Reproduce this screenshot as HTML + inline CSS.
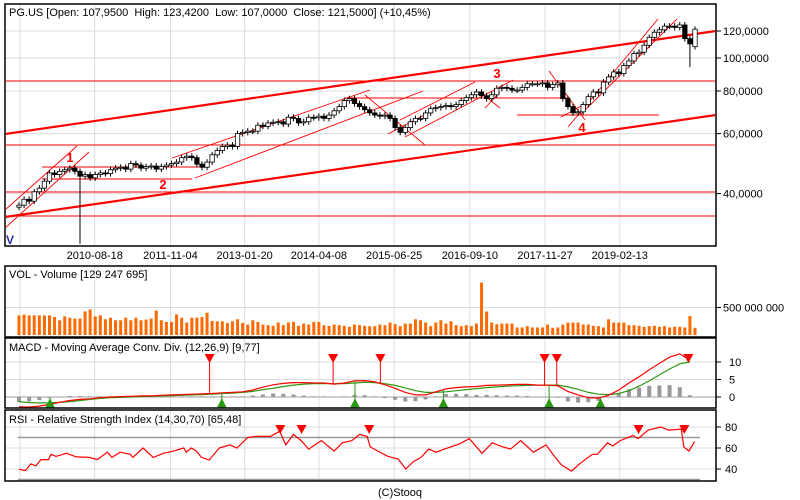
<!DOCTYPE html>
<html><head><meta charset="utf-8"><style>
body{margin:0;background:#fff;}
svg{display:block;font-family:"Liberation Sans",Arial,sans-serif;}
</style></head><body>
<svg id="c" width="800" height="500" viewBox="0 0 800 500">
<rect x="0" y="0" width="800" height="500" fill="#fff"/>
<defs><clipPath id="mainClip"><rect x="6" y="5" width="709" height="240"/></clipPath></defs>
<g id="grid"></g>
<g id="mainMarks" clip-path="url(#mainClip)"></g>
<g id="marks"></g>
<g id="frames">
<rect x="5" y="4" width="711" height="242" fill="none" stroke="#000" stroke-width="1.5"/>
<rect x="5" y="266" width="711" height="71" fill="none" stroke="#000" stroke-width="1.5"/>
<rect x="5" y="338" width="711" height="70" fill="none" stroke="#000" stroke-width="1.5"/>
<rect x="5" y="410" width="711" height="71" fill="none" stroke="#000" stroke-width="1.5"/>
</g>
<text x="9" y="16" font-size="11" style="white-space:pre">PG.US [Open: 107,9500  High: 123,4200  Low: 107,0000  Close: 121,5000] (+10,45%)</text>
<text x="9" y="278" font-size="11">VOL - Volume [129 247 695]</text>
<text x="9" y="351" font-size="11">MACD - Moving Average Conv. Div. (12,26,9) [9,77]</text>
<text x="9" y="423" font-size="11">RSI - Relative Strength Index (14,30,70) [65,48]</text>
<text x="6" y="244" font-size="12" font-weight="bold" fill="#3030a0">V</text>
<text x="400" y="496" font-size="11" text-anchor="middle">(C)Stooq</text>
</svg>
<script>
const closes=[37,38.5,38,40.5,41.5,43.5,46,45.5,46.5,47,
47.5,46.5,45,45.5,44.5,45.5,46,45.8,47,47.5,
47.8,47.2,49,48.5,47.5,48,48.2,47.2,48,48.5,
49,49.5,51,51.5,51,48.8,47.8,49.5,52,53.5,
55,55.5,55,60,60.5,61,61,63.5,63,64.5,64.8,
65,64,67,66.5,64.5,65,67,66.8,67.5,66.5,
68,70,72,75,76,73.5,72,70.5,69,68,
67.5,68,66.5,62.5,60.5,62.5,65,66.5,66.5,69,
71,71.5,72,72.5,72,73,75,76.5,78,79.5,
77.5,76,78,81.5,82,81.5,80.5,80.5,82,84,84,
84,84.5,82,83.5,84.5,76,72,69,69.5,73,
77,79.5,79,85,88,91,90,95,98,103,
104,109,115,119,121,124,124,123,125,114,110,121.5];
const lowSpikes={12:28.5,132:94};
const volumes=[357,369,357,357,357,357,357,327,268,339,315,298,298,428,464,339,357,286,315,268,268,315,268,315,268,280,298,446,268,238,238,375,315,226,315,315,327,405,256,250,250,220,250,286,220,190,268,238,190,179,167,226,179,226,238,167,208,190,238,238,179,167,190,179,167,149,190,179,167,
161,161,190,179,226,196,161,208,208,286,268,226,161,226,268,208,250,179,161,179,161,208,952,428,226,196,208,208,208,137,137,161,137,137,137,190,131,137,190,226,226,226,190,190,167,161,137,286,226,226,226,179,179,167,149,161,167,149,161,137,149,149,137,345,131];
const macdLine=[-2.8,-2.9,-2.6,-2.1,-1.5,-1.0,-0.7,-0.5,-0.2,0,0.1,0.2,0.3,0.3,0.5,0.6,0.7,0.8,0.9,1.0,1.2,1.3,1.5,2.0,2.8,3.5,3.9,4.1,4.1,4.0,4.0,3.7,4.0,4.6,4.7,4.3,3.5,2.5,1.3,0.6,0.6,1.5,2.3,2.7,2.9,3.0,3.3,3.4,3.5,3.6,3.6,3.4,3.4,3.2,1.6,0.6,-0.2,-0.3,0.5,2.0,4.0,5.8,7.8,9.6,11.4,12.3,10.5];
const signalLine=[-1.3,-1.6,-1.7,-1.7,-1.5,-1.3,-1.0,-0.7,-0.4,-0.2,-0.1,0,0.1,0.2,0.3,0.4,0.5,0.6,0.7,0.8,1.0,1.1,1.3,1.6,2.1,2.5,3.0,3.4,3.7,3.8,3.8,3.8,3.8,4.0,4.2,4.1,3.8,3.3,2.6,1.8,1.3,1.3,1.5,1.8,2.1,2.4,2.7,2.9,3.1,3.2,3.3,3.4,3.4,3.4,2.9,2.2,1.3,0.8,0.7,1.0,1.8,3.1,4.6,6.3,8.0,9.5,10.0];
const macdSellT=[37.5,61.8,71.1,103.4,105.8,131.7];
const macdBuyT=[6.1,39.9,66.1,83.5,104.3,114.4];
const rsiT=[0,1.3,2.3,3.3,4.3,5.8,6.3,7.3,9.3,11.3,13.8,15.4,17.4,18.3,19.9,21.9,22.4,24.4,26.4,28.4,30.4,32.4,32.9,33.9,34.9,35.9,37.4,39.4,41.5,42.9,45,46.5,49.5,51.3,52.5,54,55.5,57,59.5,62,63.6,65.5,67,68.5,69.1,70.6,72.6,74.6,76.1,77.6,79.1,80.6,82.1,83.7,86.7,88.6,91.1,93.1,95.2,96.7,98.7,101.2,103.7,105.2,106.7,108.7,110.3,112.8,113.8,115.8,116.8,118.3,120.8,121.8,123.8,126.3,127.8,130.3,130.8,131.8,132.9];
const rsiVals=[39.7,38.5,45,43,49,49,54,52,55,51.5,51,49,56,51,56,54,51,60,51,55,57,60,56,60,57,51,48.5,60,63,60,70,71,71,76,63,73,67,59,67,57,65,67,73,71,61,57,52,49.5,40,47,51,59,56,59,64,69,55,65,61,59,67,56,63,53,44,38,45,54,54,65,62,67,72,69,77,80,77,78,61,57,66];
const rsiSellT=[51.4,55.6,68.9,121.9,130.9];
const priceTicks=[120,100,80,60,40];
const priceTickLabels=["120,0000","100,0000","80,0000","60,0000","40,0000"];
const dateLabels=["2010-08-18","2011-11-04","2013-01-20","2014-04-08","2015-06-25","2016-09-10","2017-11-27","2019-02-13"];
const dateT=[14.9,29.8,44.4,59,73.8,88.7,103.5,118.2];
const macdTicks=[10,5,0];
const rsiTicks=[80,60,40];

const NS="http://www.w3.org/2000/svg";
const N=closes.length;
const X0=19,DX=(695-19)/(N-1);
function xT(t){return X0+t*DX;}
function yP(p){return 58-148*Math.log(p/100);}
function yV(v){return 335-v*27.5/500;}
function yM(v){return 397-v*3.5;}
function yR(v){return 448-(v-60)*1.05;}
function el(tag,attrs,parent){const e=document.createElementNS(NS,tag);for(const k in attrs)e.setAttribute(k,attrs[k]);parent.appendChild(e);return e;}
const grid=document.getElementById('grid'),marks=document.getElementById('marks'),mm=document.getElementById('mainMarks');

const gx=[20].concat(dateT.map(xT));
gx.forEach(x=>{[[5,246],[266,337],[338,408],[410,481]].forEach(r=>{
  const l=el('line',{x1:x,x2:x,y1:r[0],y2:r[1],stroke:'#dcdcdc'},grid);
  
  
});});
dateLabels.forEach((d,i)=>{
  const t=el('text',{x:xT(dateT[i]),y:259,'font-size':11,'text-anchor':'middle'},marks);t.textContent=d;
  
  
});
priceTicks.forEach((p,i)=>{
  const y=yP(p);
  const l=el('line',{x1:5,x2:716,y1:y,y2:y,stroke:'#dcdcdc'},grid);
  
  
  el('line',{x1:716,x2:721,y1:y,y2:y,stroke:'#000'},marks);
  const t=el('text',{x:723,y:y+4,'font-size':11},marks);t.textContent=priceTickLabels[i];
  
  
});
{const y=yV(500);el('line',{x1:5,x2:716,y1:y,y2:y,stroke:'#dcdcdc'},grid);el('line',{x1:716,x2:721,y1:y,y2:y,stroke:'#000'},marks);
const t=el('text',{x:723,y:y+4,'font-size':11},marks);t.textContent='500 000 000';

}
macdTicks.forEach(v=>{const y=yM(v);el('line',{x1:5,x2:716,y1:y,y2:y,stroke:v===0?'#a0a0a0':'#dcdcdc'},grid);el('line',{x1:716,x2:721,y1:y,y2:y,stroke:'#000'},marks);
const t=el('text',{x:729,y:y+4,'font-size':11},marks);t.textContent=v;

});
rsiTicks.forEach(v=>{const y=yR(v);el('line',{x1:5,x2:716,y1:y,y2:y,stroke:'#dcdcdc'},grid);el('line',{x1:716,x2:721,y1:y,y2:y,stroke:'#000'},marks);
const t=el('text',{x:725,y:y+4,'font-size':11},marks);t.textContent=v;

});
[70,30].forEach(v=>{const y=yR(v);el('line',{x1:18,x2:700,y1:y,y2:y,stroke:'#999','stroke-width':1.5},grid);});

const thick=[[5,134,716,31],[5,217,716,115]];
const hlines=[81,145,192,216];
const thin=[[5,210,77,146],[5,228,89,152],[42,167,199,167],[42,179,192,179],[172,158,370,90],[195,178,423,91],[345,98,570,98],
[365,95,425,145],[388,134,430,112],[400,120,475,82],[405,137,513,80],[480,92,500,108],[485,108,500,92],
[549,71,585,120],[561,117,583,105],[517,115,659,115],[568,127,658,19],[580,115,677,19]];
thick.forEach(a=>{el('line',{x1:a[0],y1:a[1],x2:a[2],y2:a[3],stroke:'#f00','stroke-width':2.2},mm);});
hlines.forEach(y=>{el('line',{x1:5,x2:716,y1:y,y2:y,stroke:'#f00','stroke-width':1},mm);});
thin.forEach(a=>{el('line',{x1:a[0],y1:a[1],x2:a[2],y2:a[3],stroke:'#f00','stroke-width':0.9},mm);});
[["1",70,162],["2",163,189],["3",497,78],["4",582,132]].forEach(a=>{const t=el('text',{x:a[1],y:a[2],'font-size':13,'font-weight':'bold',fill:'#f00','text-anchor':'middle'},mm);t.textContent=a[0];});

for(let i=0;i<N;i++){
  const c=closes[i],o=i===0?36.5:(i===N-1?107.95:closes[i-1]);
  const hi=Math.max(o,c)*1.02,lo=(lowSpikes[i]!==undefined)?lowSpikes[i]:Math.min(o,c)*0.98;
  const x=xT(i);
  const w=el('line',{x1:x,x2:x,y1:yP(hi),y2:yP(lo),stroke:'#000'},mm);
  
  
  const yt=yP(Math.max(o,c)),yb=yP(Math.min(o,c));
  const b=el('rect',{x:x-2.2,y:yt,width:4.4,height:Math.max(1,yb-yt),fill:c>=o?'#fff':'#000',stroke:'#000','stroke-width':0.8},mm);
  
  
}
const VDX=(695-19)/(volumes.length-1);
volumes.forEach((v,i)=>{
  const x=19+i*VDX;
  const r=el('rect',{x:x-1.5,y:yV(v),width:3,height:335-yV(v),fill:'#ff6a00'},marks);
  
  
});
const MDX=2*DX;
macdLine.forEach((m,k)=>{
  const h=m-signalLine[k];const x=X0+k*MDX;
  const y0=yM(0),y1=yM(h);
  const r=el('rect',{x:x-2,y:Math.min(y0,y1),width:4,height:Math.max(0.5,Math.abs(y1-y0)),fill:'#999'},marks);
  
  
});
function poly(vals,xf,yf,color,name){
  const pts=vals.map((v,k)=>xf(k).toFixed(1)+','+yf(v).toFixed(1)).join(' ');
  const p=el('polyline',{points:pts,fill:'none',stroke:color,'stroke-width':1.2},marks);
  
  
}
poly(signalLine,k=>X0+k*MDX,yM,'#2a9a10','macd-signal-line');
poly(macdLine,k=>X0+k*MDX,yM,'#f00','macd-line');
function macdAt(t){const k=t/2;const a=Math.floor(k),b=Math.min(a+1,macdLine.length-1);const f=k-a;return macdLine[a]*(1-f)+macdLine[b]*f;}
macdSellT.forEach(t=>{const x=xT(t);
  el('line',{x1:x,x2:x,y1:358,y2:yM(macdAt(t)),stroke:'#f00'},marks);
  const p=el('polygon',{points:`${x-5},354 ${x+5},354 ${x},363`,fill:'#f00'},marks);
  
  });
macdBuyT.forEach(t=>{const x=xT(t);
  el('line',{x1:x,x2:x,y1:402,y2:yM(macdAt(t)),stroke:'#2a9a10'},marks);
  const p=el('polygon',{points:`${x-5},408 ${x+5},408 ${x},398`,fill:'#2a9a10'},marks);
  
  });
poly(rsiVals,k=>xT(rsiT[k]),yR,'#f00','rsi-line');
rsiSellT.forEach(t=>{const x=xT(t);
  const p=el('polygon',{points:`${x-5},425 ${x+5},425 ${x},434`,fill:'#f00'},marks);
  
  });
</script>
</body></html>
